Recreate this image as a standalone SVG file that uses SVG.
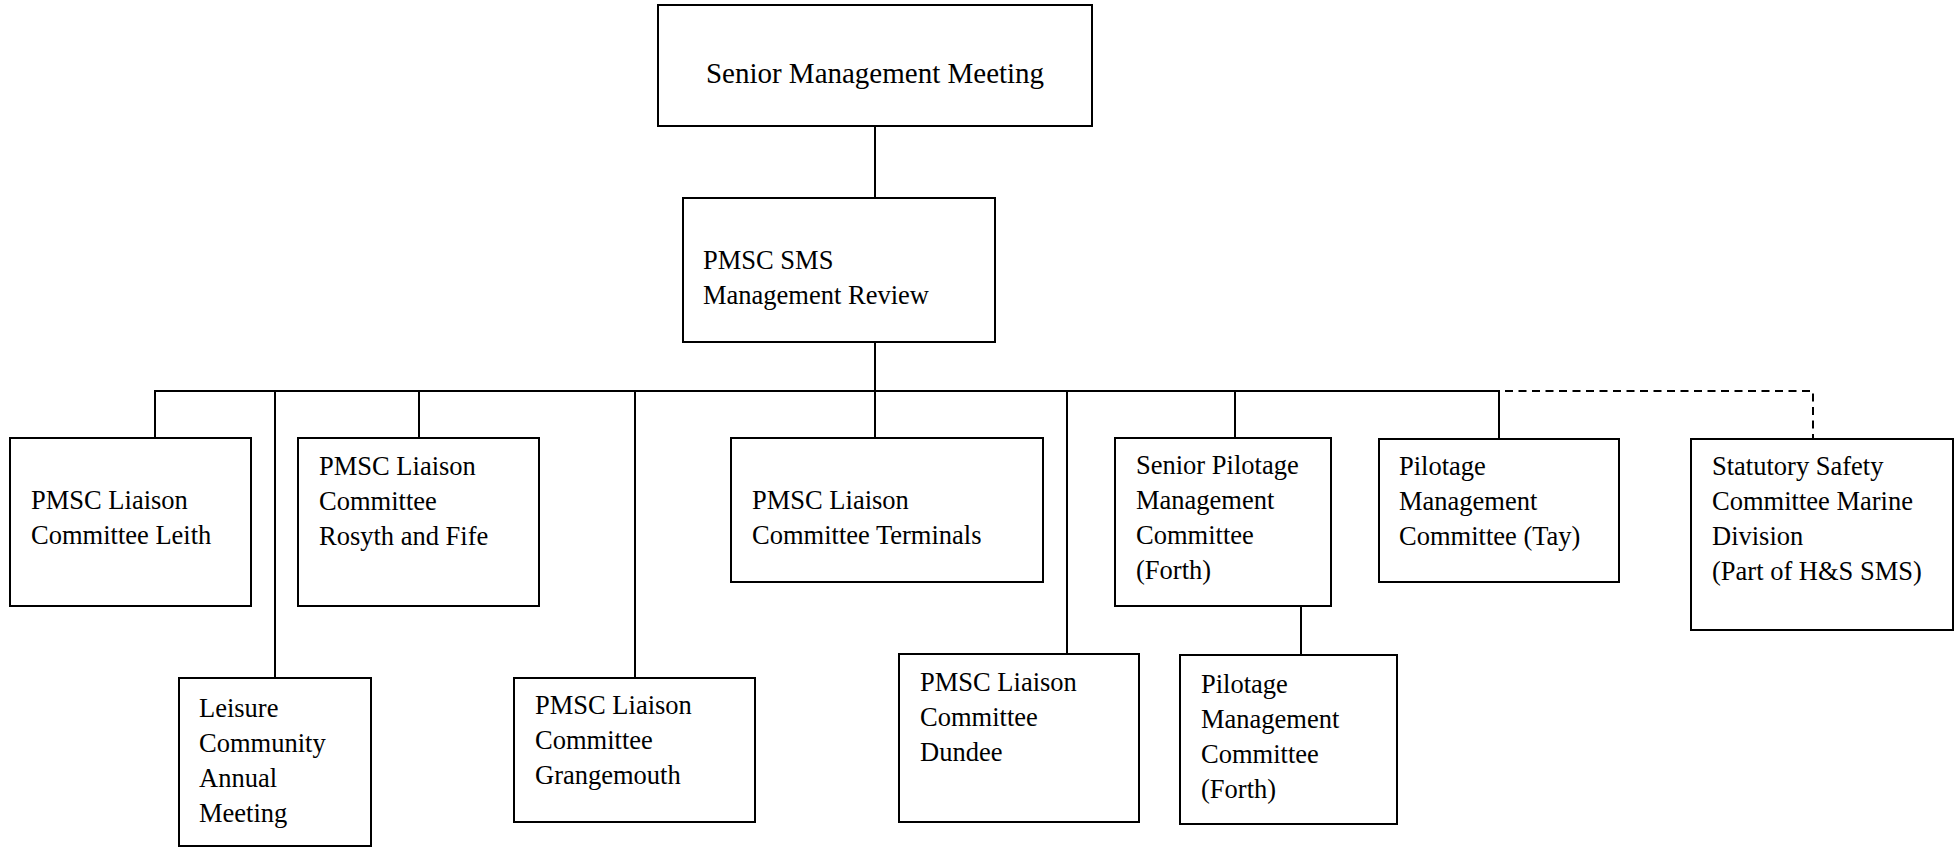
<svg xmlns="http://www.w3.org/2000/svg" width="1955" height="847" viewBox="0 0 1955 847">
<style>
.box{fill:#fff;stroke:#000;stroke-width:2}
.t{font-family:"Liberation Serif","Times New Roman",serif;font-size:26.5px;fill:#000}
.big{font-size:29px}
.ln{stroke:#000;stroke-width:2;fill:none}
.dash{stroke:#000;stroke-width:2;fill:none;stroke-dasharray:8 5.5}
</style>
<rect width="1955" height="847" fill="#fff"/>
<g id="connectors">
<line class="ln" x1="875" y1="126" x2="875" y2="198"/>
<line class="ln" x1="875" y1="342" x2="875" y2="391"/>
<line class="ln" x1="154" y1="391" x2="1499" y2="391"/>
<line class="ln" x1="155" y1="391" x2="155" y2="438"/>
<line class="ln" x1="275" y1="391" x2="275" y2="678"/>
<line class="ln" x1="419" y1="391" x2="419" y2="438"/>
<line class="ln" x1="635" y1="391" x2="635" y2="678"/>
<line class="ln" x1="875" y1="391" x2="875" y2="438"/>
<line class="ln" x1="1067" y1="391" x2="1067" y2="654"/>
<line class="ln" x1="1235" y1="391" x2="1235" y2="438"/>
<line class="ln" x1="1499" y1="390" x2="1499" y2="439"/>
<line class="ln" x1="1301" y1="606" x2="1301" y2="655"/>
<path class="dash" d="M1505 391 H1813 V439"/>
</g>
<g id="n_smm"><rect class="box" x="658" y="5" width="434" height="121"/><text class="t big" x="875" y="83" text-anchor="middle">Senior Management Meeting</text></g>
<g id="n_review"><rect class="box" x="683" y="198" width="312" height="144"/><text class="t" x="703" y="269">PMSC SMS</text><text class="t" x="703" y="304">Management Review</text></g>
<g id="n_leith"><rect class="box" x="10" y="438" width="241" height="168"/><text class="t" x="31" y="509">PMSC Liaison</text><text class="t" x="31" y="544">Committee Leith</text></g>
<g id="n_rosyth"><rect class="box" x="298" y="438" width="241" height="168"/><text class="t" x="319" y="475">PMSC Liaison</text><text class="t" x="319" y="510">Committee</text><text class="t" x="319" y="545">Rosyth and Fife</text></g>
<g id="n_leisure"><rect class="box" x="179" y="678" width="192" height="168"/><text class="t" x="199" y="717">Leisure</text><text class="t" x="199" y="752">Community</text><text class="t" x="199" y="787">Annual</text><text class="t" x="199" y="822">Meeting</text></g>
<g id="n_grangemouth"><rect class="box" x="514" y="678" width="241" height="144"/><text class="t" x="535" y="714">PMSC Liaison</text><text class="t" x="535" y="749">Committee</text><text class="t" x="535" y="784">Grangemouth</text></g>
<g id="n_terminals"><rect class="box" x="731" y="438" width="312" height="144"/><text class="t" x="752" y="509">PMSC Liaison</text><text class="t" x="752" y="544">Committee Terminals</text></g>
<g id="n_dundee"><rect class="box" x="899" y="654" width="240" height="168"/><text class="t" x="920" y="691">PMSC Liaison</text><text class="t" x="920" y="726">Committee</text><text class="t" x="920" y="761">Dundee</text></g>
<g id="n_senior_pilotage"><rect class="box" x="1115" y="438" width="216" height="168"/><text class="t" x="1136" y="474">Senior Pilotage</text><text class="t" x="1136" y="509">Management</text><text class="t" x="1136" y="544">Committee</text><text class="t" x="1136" y="579">(Forth)</text></g>
<g id="n_pmc_forth"><rect class="box" x="1180" y="655" width="217" height="169"/><text class="t" x="1201" y="693">Pilotage</text><text class="t" x="1201" y="728">Management</text><text class="t" x="1201" y="763">Committee</text><text class="t" x="1201" y="798">(Forth)</text></g>
<g id="n_tay"><rect class="box" x="1379" y="439" width="240" height="143"/><text class="t" x="1399" y="475">Pilotage</text><text class="t" x="1399" y="510">Management</text><text class="t" x="1399" y="545">Committee (Tay)</text></g>
<g id="n_statutory"><rect class="box" x="1691" y="439" width="262" height="191"/><text class="t" x="1712" y="475">Statutory Safety</text><text class="t" x="1712" y="510">Committee Marine</text><text class="t" x="1712" y="545">Division</text><text class="t" x="1712" y="580">(Part of H&amp;S SMS)</text></g>
</svg>
